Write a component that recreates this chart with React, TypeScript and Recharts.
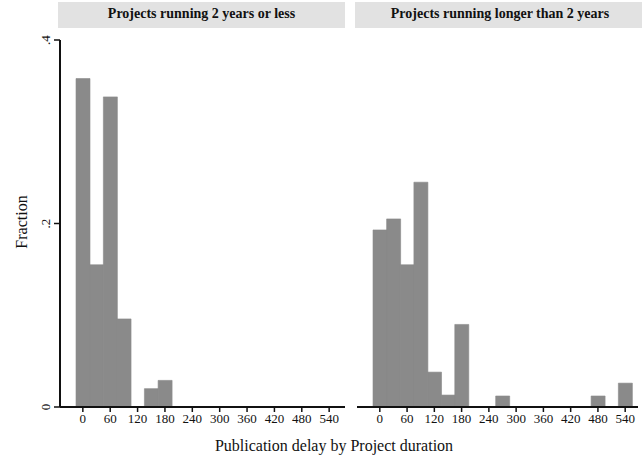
import { BarChart, Bar, XAxis, YAxis } from 'recharts';

const BINS = [0, 30, 60, 90, 120, 150, 180, 210, 240, 270, 300, 330, 360, 390, 420, 450, 480, 510, 540];
const SHORT_PROJECTS = [0.358, 0.155, 0.338, 0.096, 0, 0.02, 0.029, 0, 0, 0, 0, 0, 0, 0, 0, 0, 0, 0, 0];
const LONG_PROJECTS = [0.193, 0.205, 0.155, 0.245, 0.038, 0.013, 0.09, 0, 0, 0.012, 0, 0, 0, 0, 0, 0, 0.012, 0, 0.026];
const Y_TICKS = [0, 0.2, 0.4];
const TITLES = ['Projects running 2 years or less', 'Projects running longer than 2 years'];

const FONT = '"Liberation Serif", "DejaVu Serif", serif';
const BAR_FILL = '#8a8a8a';

const fmtY = (v: number) => (v === 0 ? '0' : String(v).replace(/^0/, ''));

function YTick({ x, y, payload }: any) {
  return (
    <text
      x={x - 2}
      y={y}
      transform={`rotate(-90 ${x - 2} ${y})`}
      textAnchor="middle"
      fontFamily={FONT}
      fontSize={13}
      fill="#111"
    >
      {fmtY(payload.value)}
    </text>
  );
}

function Panel({ values, left, width, showY, padL, padR, marginL }: any) {
  const data = BINS.map((b, i) => ({ bin: b, frac: values[i] }));
  return (
    <div style={{ position: 'absolute', left, top: 0 }}>
      <BarChart
        width={width}
        height={460}
        data={data}
        barCategoryGap={0}
        margin={{ top: 40, right: 4, left: marginL, bottom: 23 }}
      >
        <XAxis
          dataKey="bin"
          interval={1}
          padding={{ left: padL, right: padR }}
          axisLine={{ stroke: '#111', strokeWidth: 2 }}
          tickLine={{ stroke: '#111', strokeWidth: 1.5 }}
          tickSize={5}
          tick={{ fill: '#111', fontSize: 13, fontFamily: FONT }}
        />
        <YAxis
          hide={!showY}
          width={60}
          domain={[0, 0.4]}
          ticks={Y_TICKS}
          axisLine={{ stroke: '#111', strokeWidth: 2 }}
          tickLine={{ stroke: '#111', strokeWidth: 1.5 }}
          tickSize={6}
          tick={<YTick />}
        />
        <Bar dataKey="frac" fill={BAR_FILL} stroke={BAR_FILL} strokeWidth={0.6} isAnimationActive={false} />
      </BarChart>
    </div>
  );
}

export default function App() {
  return (
    <div style={{ position: 'absolute', left: 0, top: 0, width: 642, height: 460, background: '#fff', fontFamily: FONT }}>
      <div style={{ position: 'absolute', left: 58, top: 2, width: 287, height: 26, background: '#e2e2e2' }} />
      <div style={{ position: 'absolute', left: 355, top: 2, width: 287, height: 26, background: '#e2e2e2' }} />
      <div style={{ position: 'absolute', left: 58, top: 6, width: 287, textAlign: 'center', fontWeight: 'bold', fontSize: 14, color: '#111' }}>
        {TITLES[0]}
      </div>
      <div style={{ position: 'absolute', left: 390, top: 6, width: 220, textAlign: 'center', fontWeight: 'bold', fontSize: 14, color: '#111', whiteSpace: 'nowrap' }}>
        {TITLES[1]}
      </div>
      <Panel values={SHORT_PROJECTS} left={0} width={349} showY padL={16} padR={9} marginL={0} />
      <Panel values={LONG_PROJECTS} left={350} width={292} showY={false} padL={16} padR={6} marginL={7} />
      <div
        style={{
          position: 'absolute',
          left: 22,
          top: 222,
          transform: 'translate(-50%, -50%) rotate(-90deg)',
          fontSize: 16,
          color: '#111',
          whiteSpace: 'nowrap',
        }}
      >
        Fraction
      </div>
      <div style={{ position: 'absolute', left: 0, width: 668, top: 437, textAlign: 'center', fontSize: 16, color: '#111' }}>
        Publication delay by Project duration
      </div>
    </div>
  );
}
